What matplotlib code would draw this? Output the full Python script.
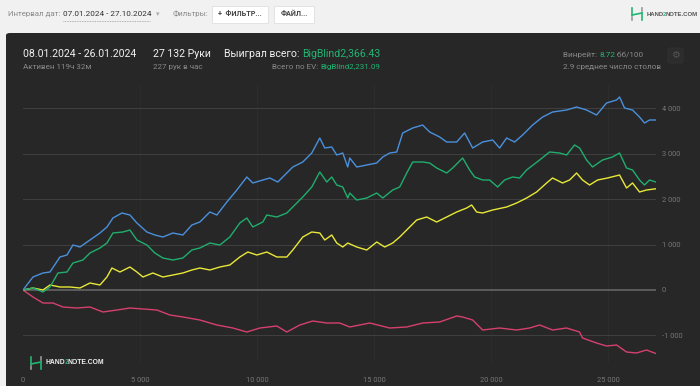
import matplotlib
matplotlib.use('Agg')
import matplotlib.pyplot as plt
from matplotlib.patches import FancyBboxPatch, Rectangle
from matplotlib.lines import Line2D

plt.rcParams['font.family'] = ['Roboto', 'DejaVu Sans']

# Showdown winnings (blue)
hands_sd = [0, 427, 854, 1153, 1580, 1879, 2135, 2434, 2861, 3288, 3587, 3843, 4227, 4569,
            4868, 5295, 5636, 5978, 6405, 6832, 7216, 7558, 7985, 8284, 8711, 9138, 9565,
            9821, 10248, 10547, 10889, 11273, 11529, 11956, 12340, 12682, 12895, 13194,
            13408, 13664, 13878, 13963, 14262, 14689, 15116, 15372, 15671, 15970, 16226,
            16653, 17080, 17379, 17806, 18105, 18532, 18873, 19215, 19642, 20069, 20368,
            20667, 21008, 21350, 21777, 22204, 22631, 23229, 23656, 24083, 24510, 24937,
            25364, 25492, 25705, 26047, 26346, 26559, 26773, 27100]
showdown = [0, 286, 374, 396, 726, 770, 990, 946, 1100, 1254, 1386, 1584, 1694, 1650,
            1474, 1276, 1210, 1166, 1254, 1210, 1430, 1496, 1716, 1650, 1936, 2200, 2486,
            2354, 2420, 2464, 2376, 2574, 2706, 2816, 3014, 3344, 3124, 3146,
            2970, 3014, 2706, 2904, 2706, 2750, 2794, 2926, 3014, 3036, 3454,
            3564, 3630, 3476, 3366, 3256, 3256, 3454, 3124, 3256, 3300, 3124,
            3344, 3256, 3410, 3630, 3806, 3916, 3960, 4026, 3960, 3850, 4114,
            4180, 4246, 4004, 3960, 3806, 3674, 3740, 3740]

# Total won (green)
hands_won = [0, 427, 854, 1153, 1494, 1879, 2135, 2562, 2861, 3288, 3587, 3843, 4270, 4569,
             4868, 5295, 5636, 5978, 6405, 6832, 7216, 7558, 7985, 8412, 8839, 9266, 9565,
             9821, 10248, 10419, 10846, 11273, 11529, 11956, 12340, 12682, 12981, 13194,
             13408, 13664, 13878, 13963, 14262, 14689, 15116, 15372, 15799, 16098, 16397,
             16653, 17080, 17379, 17678, 18105, 18361, 18788, 19087, 19300, 19642, 19941,
             20283, 20581, 20923, 21222, 21521, 22076, 22503, 22930, 23229, 23570, 23784,
             24083, 24339, 24766, 25193, 25492, 25791, 26047, 26346, 26559, 26773, 27100]
won = [0, 44, -44, 66, 374, 396, 594, 660, 814, 924, 1034, 1254, 1276, 1320,
       1100, 990, 814, 704, 660, 704, 880, 924, 1034, 990, 1166, 1474, 1584,
       1386, 1496, 1650, 1606, 1694, 1826, 2046, 2266, 2596, 2376, 2486,
       2310, 2266, 2024, 2134, 1980, 2024, 2134, 2024, 2200, 2266, 2574,
       2816, 2816, 2794, 2684, 2574, 2684, 2904, 2640, 2486, 2420, 2420,
       2266, 2420, 2486, 2464, 2640, 2860, 3036, 3014, 2970, 3190, 3124,
       2860, 2706, 2860, 2926, 3014, 2684, 2640, 2420, 2310, 2420, 2366]

# All-in EV (yellow)
hands_ev = [0, 427, 854, 1153, 1580, 2007, 2434, 2861, 3288, 3587, 3800, 4142, 4569, 4868,
            5124, 5551, 5978, 6405, 6832, 7216, 7558, 7985, 8412, 8839, 9266, 9608, 9992,
            10419, 10846, 11273, 11529, 11956, 12340, 12682, 12895, 13194, 13408, 13664,
            13878, 14262, 14689, 15116, 15457, 15799, 16098, 16525, 16824, 17251, 17678,
            18105, 18532, 18959, 19172, 19386, 19642, 20069, 20667, 21094, 21521, 21948,
            22375, 22631, 23058, 23357, 23656, 23912, 24211, 24553, 24980, 25492, 25791,
            26047, 26346, 26645, 27100]
ev = [0, 44, 0, 110, 66, 66, 44, 154, 110, 286, 484, 396, 506, 396,
      286, 374, 286, 330, 374, 440, 484, 440, 506, 550, 726, 836, 770,
      836, 726, 726, 880, 1166, 1276, 1254, 1100, 1210, 1034, 946,
      1034, 946, 880, 1056, 946, 1034, 1166, 1386, 1540, 1606, 1496,
      1606, 1716, 1804, 1870, 1716, 1694, 1760, 1826, 1914, 2024, 2156,
      2354, 2464, 2354, 2420, 2574, 2420, 2310, 2420, 2464, 2530, 2244,
      2354, 2156, 2200, 2231]

# Non-showdown winnings (red)
hands_nsd = [0, 427, 854, 1281, 1708, 2306, 2861, 3416, 4014, 4569, 5124, 5722, 6277, 6832,
             7558, 8284, 8967, 9565, 10120, 10846, 11273, 11829, 12383, 12981, 13536, 13963,
             14817, 15671, 16397, 17080, 17806, 18532, 18788, 19215, 19642, 20368, 21094,
             21649, 22076, 22631, 23229, 23784, 23912, 24510, 24937, 25364, 25791, 26218,
             26645, 27100]
non_showdown = [0, -154, -286, -286, -374, -396, -374, -484, -440, -396, -418, -440, -550, -594,
                -660, -770, -836, -924, -836, -792, -924, -770, -682, -726, -726, -814,
                -726, -836, -814, -726, -704, -572, -594, -660, -880, -836, -880,
                -836, -770, -880, -836, -924, -1056, -1166, -1232, -1210, -1364, -1386,
                -1320, -1408]

y_ticks = [-1000, 0, 1000, 2000, 3000, 4000]
y_labels = ['-1 000', '0', '1 000', '2 000', '3 000', '4 000']
x_ticks = [0, 5000, 10000, 15000, 20000, 25000]
x_labels = ['0', '5 000', '10 000', '15 000', '20 000', '25 000']

W, H = 700, 386
GREEN = '#22b573'
GREY = '#8a8a8a'


def fx(x):
    return x / W


def fy(y):
    return 1 - y / H


fig = plt.figure(figsize=(7, 3.86), dpi=100, facecolor='#f1f1f1')


def pieces(x, y, parts, size, weight='normal', align='left', family=None, gap=0.0):
    # coloured pieces of text chained one after another
    ha = 'right' if align == 'right' else 'left'
    if align == 'right':
        parts = parts[::-1]
    kw = dict(fontsize=size, va='center', ha=ha, weight=weight)
    if family:
        kw['family'] = family
    s, c = parts[0]
    prev = fig.text(fx(x), fy(y), s, color=c, **kw)
    for s, c in parts[1:]:
        anchor = (0, 0.5) if align == 'right' else (1, 0.5)
        prev = fig.add_artist(matplotlib.text.Annotation(
            s, xy=anchor, xycoords=prev, xytext=(gap, 0), textcoords='offset points',
            color=c, **kw))


def logo_mark(x, y, s):
    # small H-shaped mark of the logo
    segs = [([x, x], [y - 6 * s, y + 1 * s], GREEN),
            ([x, x], [y + 3 * s, y + 6 * s], '#999999'),
            ([x, x + 10 * s], [y + 1 * s, y - 1 * s], GREEN),
            ([x + 10 * s, x + 10 * s], [y - 1 * s, y + 6 * s], GREEN),
            ([x + 10 * s, x + 10 * s], [y - 6 * s, y - 3 * s], '#999999')]
    for xs, ys, c in segs:
        fig.lines.append(Line2D([fx(v) for v in xs], [fy(v) for v in ys],
                                transform=fig.transFigure, color=c, lw=1.2))


# dark panel
panel = FancyBboxPatch((fx(6), fy(400)), fx(700), (400 - 33) / H,
                       boxstyle='round,pad=0,rounding_size=0.006',
                       transform=fig.transFigure, facecolor='#272727',
                       edgecolor='none', zorder=-10)
fig.patches.append(panel)

# top bar
fig.text(fx(8), fy(14), 'Интервал дат:', fontsize=5.7, color=GREY, va='center')
fig.text(fx(63), fy(14), '07.01.2024 - 27.10.2024', fontsize=5.9, color='#333333', va='center')
fig.lines.append(Line2D([fx(63), fx(150)], [fy(20.5), fy(20.5)], transform=fig.transFigure,
                        color='#9a9a9a', lw=0.6, ls=(0, (1, 1))))
fig.text(fx(156), fy(14), '▾', fontsize=5.0, color='#aaaaaa', va='center', family='DejaVu Sans')
fig.text(fx(173), fy(14), 'Фильтры:', fontsize=5.7, color=GREY, va='center')
for x0, x1, label in [(212, 268, '+  ФИЛЬТР...'), (274, 314, 'ФАЙЛ...')]:
    fig.patches.append(Rectangle((fx(x0), fy(23)), fx(x1 - x0), 17 / H,
                                 transform=fig.transFigure, facecolor='white',
                                 edgecolor='#e0e0e0', lw=0.6))
    fig.text(fx((x0 + x1) / 2), fy(14.5), label, fontsize=5.2, color='#444444',
             va='center', ha='center', weight='bold')

logo_mark(632, 14, 1.0)
pieces(647, 14, [('HAND', '#555555'), ('2', GREEN), ('NOTE.COM', '#555555')], 4.3, 'bold',
       family='Liberation Sans', gap=-0.6)

# header in the dark panel
fig.text(fx(23), fy(54), '08.01.2024 - 26.01.2024', fontsize=7.6, color='#f0f0f0', va='center')
fig.text(fx(23), fy(67), 'Активен 119ч 32м', fontsize=5.8, color=GREY, va='center')
fig.text(fx(153), fy(54), '27 132 Руки', fontsize=7.6, color='#f0f0f0', va='center')
fig.text(fx(153), fy(67), '227 рук в час', fontsize=5.8, color=GREY, va='center')
pieces(380, 54, [('Выиграл всего: ', '#f0f0f0'), ('BigBlind2,366.43', GREEN)], 7.6,
       align='right')
pieces(380, 67, [('Всего по EV: ', GREY), ('BigBlind2,231.09', GREEN)], 5.8, align='right')
pieces(563, 55, [('Винрейт: ', GREY), ('8.72', GREEN), (' бб/100', GREY)], 5.9)
fig.text(fx(563), fy(67), '2.9 среднее число столов', fontsize=5.9, color=GREY, va='center')
fig.patches.append(FancyBboxPatch((fx(668), fy(63)), fx(15), 15 / H,
                                  boxstyle='round,pad=0,rounding_size=0.003',
                                  transform=fig.transFigure, facecolor='#2c2c2c',
                                  edgecolor='#333333', lw=0.5))
fig.text(fx(675.5), fy(55.5), '⚙', fontsize=7, color='#555555', va='center', ha='center',
         family='DejaVu Sans')

# chart
left, right, top, bottom = 23, 656, 85, 362
ax = fig.add_axes([fx(left), fy(bottom), fx(right - left), (bottom - top) / H])
ax.set_facecolor('none')
ax.set_xlim(0, 27050)
ax.set_ylim(-1584, 4510)

for xt in x_ticks[1:]:
    ax.axvline(xt, color='#2e2e2e', lw=0.6, zorder=1)
for yt in y_ticks:
    if yt == 0:
        ax.axhline(yt, color='#6a6a6a', lw=1.1, zorder=1)
    else:
        ax.axhline(yt, color='#404040', lw=0.7, zorder=1)

ax.plot(hands_nsd, non_showdown, color='#d6406e', lw=1.0, zorder=3)
ax.plot(hands_ev, ev, color='#e8e838', lw=1.0, zorder=4)
ax.plot(hands_won, won, color='#1fae6e', lw=1.0, zorder=5)
ax.plot(hands_sd, showdown, color='#4a90dc', lw=1.0, zorder=6)

ax.set_xticks(x_ticks)
ax.set_xticklabels(x_labels)
ax.set_yticks(y_ticks)
ax.set_yticklabels(y_labels)
ax.yaxis.tick_right()
ax.tick_params(axis='both', length=0, labelsize=5.4, labelcolor='#777777')
ax.tick_params(axis='x', pad=11)
ax.tick_params(axis='y', pad=4)
for sp in ax.spines.values():
    sp.set_visible(False)

# bottom-left logo
logo_mark(31, 363, 1.0)
pieces(46, 363, [('HAND', '#f0f0f0'), ('2', GREEN), ('NOTE.COM', '#f0f0f0')], 4.9, 'bold',
       family='Liberation Sans', gap=-0.6)

fig.savefig('out.png', dpi=100, facecolor=fig.get_facecolor())
